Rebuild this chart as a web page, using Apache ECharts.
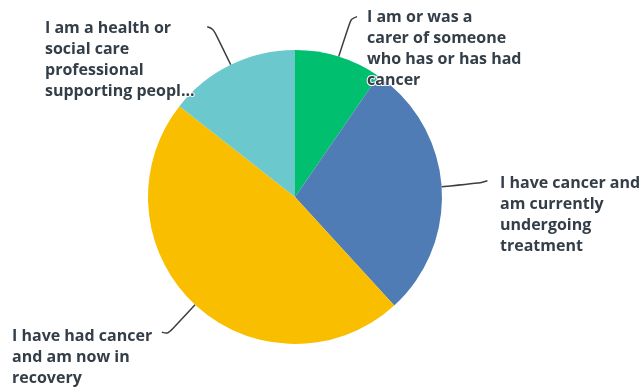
<!DOCTYPE html>
<html>
<head>
<meta charset="utf-8">
<script src="https://cdn.jsdelivr.net/npm/echarts@6/dist/echarts.min.js"></script>
<style>html,body{margin:0;padding:0;background:#fff}#c{width:643px;height:389px}</style>
</head>
<body>
<div id="c"></div>
<script>
const categories = [
  "I am or was a carer of someone who has or has had cancer",
  "I have cancer and am currently undergoing treatment",
  "I have had cancer and am now in recovery",
  "I am a health or social care professional supporting people affected by cancer"
];
const labelTexts = [
  "I am or was a\ncarer of someone\nwho has or has had\ncancer",
  "I have cancer and\nam currently\nundergoing\ntreatment",
  "I have had cancer\nand am now in\nrecovery",
  "I am a health or\nsocial care\nprofessional\nsupporting peopl..."
];
const values = [9.6, 28.6, 47.4, 14.4];
const colors = ["#00bf6f", "#507cb6", "#f9be00", "#6bc8cd"];
const labelAnchors = [[367, 7], [500, 173], [12, 326], [45, 18]];

const chart = echarts.init(document.getElementById('c'));
chart.setOption({
  animation: false,
  series: [{
    type: 'pie',
    center: [295, 197],
    radius: [0, 147],
    startAngle: 90,
    clockwise: true,
    data: categories.map((n, i) => ({ name: n, value: values[i], itemStyle: { color: colors[i] } })),
    label: {
      show: true,
      position: 'outside',
      formatter: p => labelTexts[p.dataIndex],
      fontFamily: 'Open Sans',
      fontWeight: 'bold',
      fontSize: 16,
      lineHeight: 21,
      color: '#333e48',
      textBorderColor: '#ffffff',
      textBorderWidth: 2
    },
    labelLine: {
      show: true,
      smooth: 0.35,
      length: 15,
      length2: 20,
      lineStyle: { color: '#3a3f44', width: 1.5 }
    },
    labelLayout: p => {
      const pts = p.labelLinePoints;
      const out = {
        x: labelAnchors[p.dataIndex][0],
        y: labelAnchors[p.dataIndex][1],
        align: 'left',
        verticalAlign: 'top',
        hideOverlap: false
      };
      if (pts && pts.length >= 2) {
        const p0 = pts[0];
        let dx = pts[1][0] - p0[0], dy = pts[1][1] - p0[1];
        const d = Math.sqrt(dx * dx + dy * dy) || 1;
        dx /= d; dy /= d;
        const L = 40;
        const p1 = [p0[0] + dx * L, p0[1] + dy * L];
        const p2 = [p1[0] + (dx >= 0 ? 6 : -6), p1[1] - 2];
        out.labelLinePoints = [p0, p1, p2];
      }
      return out;
    }
  }]
});
</script>
</body>
</html>
